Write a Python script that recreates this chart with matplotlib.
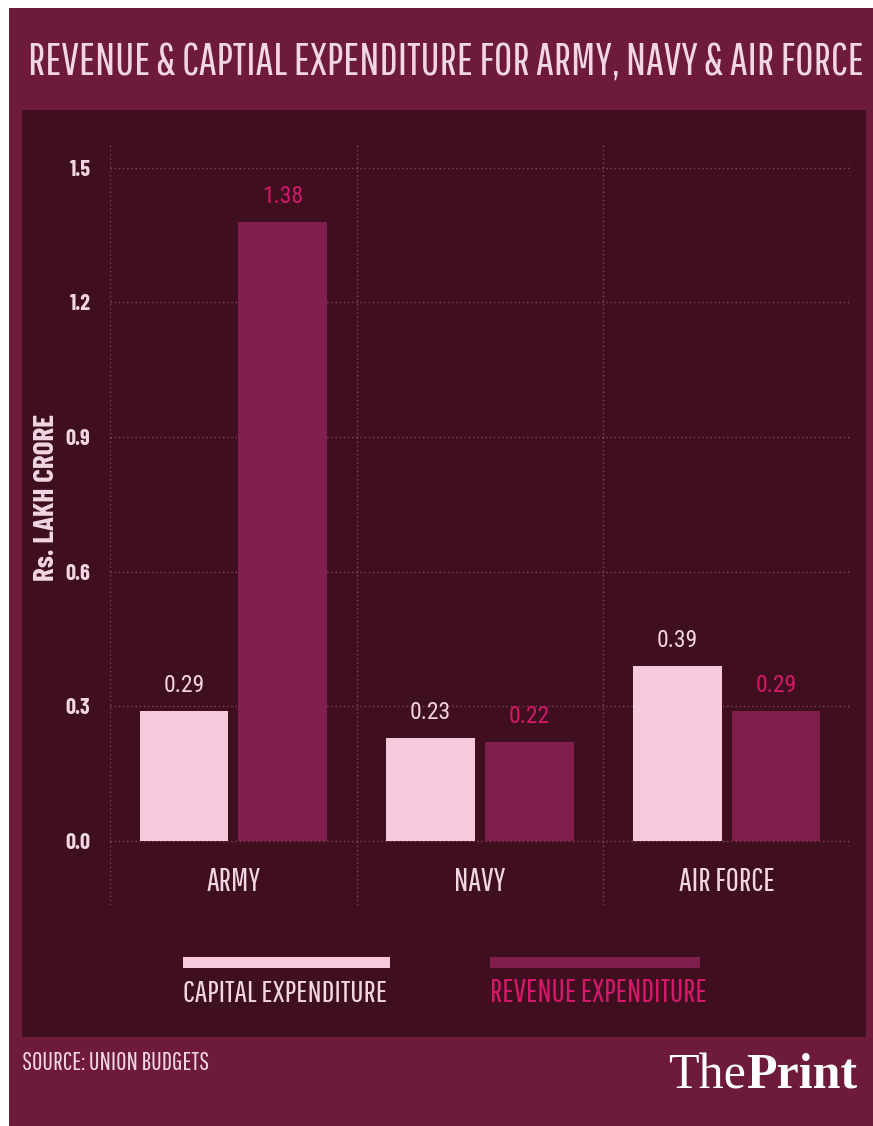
import matplotlib.pyplot as plt
from matplotlib import font_manager
from matplotlib.patches import Rectangle

# --- Data ---
CATEGORIES = ["ARMY", "NAVY", "AIR FORCE"]
CAPITAL = [0.29, 0.23, 0.39]
REVENUE = [1.38, 0.22, 0.29]
Y_TICKS = [0.0, 0.3, 0.6, 0.9, 1.2, 1.5]
SERIES_NAMES = ["CAPITAL EXPENDITURE", "REVENUE EXPENDITURE"]
TITLE = "REVENUE & CAPTIAL EXPENDITURE FOR ARMY, NAVY & AIR FORCE"
Y_LABEL = "Rs. LAKH CRORE"
SOURCE = "SOURCE: UNION BUDGETS"

# --- Style ---
W, H = 873, 1126
OUTER = "#6d1a3b"
INNER = "#3f0f20"
CAP_COLOR = "#f8c8dd"
REV_COLOR = "#801e4d"
REV_TEXT = "#d4186a"
LIGHT = "#f3d6e3"
GRID = "#b07088"

available = {f.name for f in font_manager.fontManager.ttflist}


def pick(*cands):
    for c in cands:
        if c in available:
            return c
    return "DejaVu Sans"


GOTHIC = pick("Pathway Gothic One", "Antonio", "Oswald")
BOLDCOND = pick("Barlow Condensed", "Roboto Condensed", "Oswald")
COND = pick("Roboto Condensed", "Open Sans Condensed", "Barlow Condensed")
SERIF = pick("Liberation Serif", "DejaVu Serif")
plt.rcParams["font.family"] = [COND, "DejaVu Sans"]


def fx(px):
    return px / W


def fy(py):
    return 1 - py / H


fig = plt.figure(figsize=(W / 100, H / 100), dpi=100, facecolor="white")
renderer = fig.canvas.get_renderer()


def fit(t, px, vertical=False):
    bb = t.get_window_extent(renderer)
    size = bb.height if vertical else bb.width
    t.set_fontsize(t.get_fontsize() * px / size)
    return t


# background frame and dark inner panel
fig.add_artist(Rectangle((fx(9), 0), fx(W - 9), fy(8), transform=fig.transFigure,
                         facecolor=OUTER, edgecolor="none", zorder=0))
fig.add_artist(Rectangle((fx(22), fy(1037)), fx(866 - 22), (1037 - 110) / H,
                         transform=fig.transFigure, facecolor=INNER,
                         edgecolor="none", zorder=0))

fit(fig.text(fx(446), fy(62), TITLE, color=LIGHT, fontsize=30, family=GOTHIC,
             ha="center", va="center"), 832)

# --- Axes ---
ax = fig.add_axes([fx(110), fy(905), fx(850 - 110), (905 - 145) / H])
ax.set_facecolor("none")
ax.set_xlim(-0.5, 2.5)
ax.set_ylim(-0.143, 1.551)
for s in ax.spines.values():
    s.set_visible(False)

x = list(range(len(CATEGORIES)))
bw = 0.36
off = 0.2
ax.bar([i - off for i in x], CAPITAL, width=bw, color=CAP_COLOR, zorder=3)
ax.bar([i + off for i in x], REVENUE, width=bw, color=REV_COLOR, zorder=3)

cat_labels = []
for i in x:
    ax.annotate(f"{CAPITAL[i]:.2f}", (i - off, CAPITAL[i]), xytext=(0, 10),
                textcoords="offset points", ha="center", va="bottom",
                color=LIGHT, fontsize=17)
    ax.annotate(f"{REVENUE[i]:.2f}", (i + off, REVENUE[i]), xytext=(0, 10),
                textcoords="offset points", ha="center", va="bottom",
                color=REV_TEXT, fontsize=17)
    cat_labels.append(ax.text(i, -0.091, CATEGORIES[i], ha="center", va="center",
                              color=LIGHT, fontsize=20, family=GOTHIC))
fit(cat_labels[-1], 96)
for t in cat_labels[:-1]:
    t.set_fontsize(cat_labels[-1].get_fontsize())

ax.set_yticks(Y_TICKS)
ax.set_yticklabels([f"{t:.1f}" for t in Y_TICKS], color=LIGHT, fontsize=16,
                   family=BOLDCOND, fontweight="bold")
ax.set_xticks([-0.5, 0.5, 1.5, 2.5])
ax.set_xticklabels([])
ax.tick_params(axis="both", which="both", length=0)
ax.tick_params(axis="y", pad=14)
ax.grid(color=GRID, linestyle=(0, (1, 2)), linewidth=1, alpha=0.55, zorder=1)

fit(fig.text(fx(47), fy(497), Y_LABEL, rotation=90, color=LIGHT, fontsize=14,
             family=BOLDCOND, fontweight="bold", ha="center", va="center"),
    168, vertical=True)

# --- Legend ---
fig.add_artist(Rectangle((fx(183), fy(968)), fx(207), 11 / H, transform=fig.transFigure,
                         facecolor=CAP_COLOR, edgecolor="none"))
fig.add_artist(Rectangle((fx(490), fy(968)), fx(210), 11 / H, transform=fig.transFigure,
                         facecolor=REV_COLOR, edgecolor="none"))
fit(fig.text(fx(183), fy(993), SERIES_NAMES[0], color=LIGHT, fontsize=18,
             family=GOTHIC, ha="left", va="center"), 205)
fit(fig.text(fx(490), fy(993), SERIES_NAMES[1], color=REV_TEXT, fontsize=18,
             family=GOTHIC, ha="left", va="center"), 218)

# --- Footer ---
fit(fig.text(fx(22), fy(1063), SOURCE, color=LIGHT, fontsize=12, family=GOTHIC,
             ha="left", va="center"), 186)
brand_size = 27
p = fig.text(fx(857), fy(1076), "Print", color="white", fontsize=brand_size,
             fontweight="bold", family=SERIF, ha="right", va="center")
t = fig.text(fx(857), fy(1076), "The", color="white", fontsize=brand_size,
             family=SERIF, ha="right", va="center")
total = p.get_window_extent(renderer).width + t.get_window_extent(renderer).width
scale = 189 / total
p.set_fontsize(brand_size * scale)
t.set_fontsize(brand_size * scale)
t.set_x(p.get_window_extent(renderer).x0 / W)

fig.savefig("out.png", dpi=100, facecolor=fig.get_facecolor())
